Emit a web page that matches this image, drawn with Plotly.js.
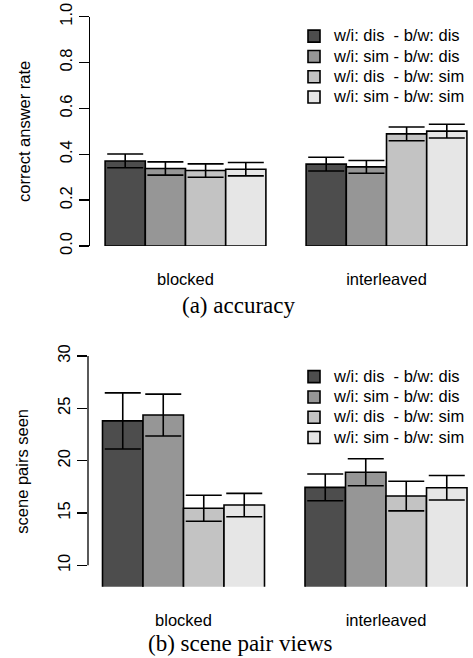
<!DOCTYPE html>
<html><head><meta charset="utf-8">
<script src="https://cdn.plot.ly/plotly-3.0.1.min.js"></script>
<style>html,body{margin:0;padding:0;background:#fff}#chart{width:473px;height:658px}</style>
</head><body><div id="chart"></div>
<script>
// ---- data ----
const groups = ["blocked", "interleaved"];
const seriesNames = ["w/i: dis\u00a0 - b/w: dis", "w/i: sim - b/w: dis", "w/i: dis\u00a0 - b/w: sim", "w/i: sim - b/w: sim"];
const seriesColors = ["#4D4D4D", "#969696", "#C3C3C3", "#E6E6E6"];

// (a) accuracy: correct answer rate
const accDisDis = [0.371, 0.357];
const accSimDis = [0.338, 0.345];
const accDisSim = [0.329, 0.489];
const accSimSim = [0.335, 0.501];
const accErrDisDis = [0.030, 0.030];
const accErrSimDis = [0.029, 0.028];
const accErrDisSim = [0.029, 0.030];
const accErrSimSim = [0.029, 0.030];

// (b) scene pair views
const viewsDisDis = [23.8, 17.45];
const viewsSimDis = [24.36, 18.89];
const viewsDisSim = [15.45, 16.62];
const viewsSimSim = [15.76, 17.42];
const viewsErrDisDis = [2.68, 1.28];
const viewsErrSimDis = [2.0, 1.29];
const viewsErrDisSim = [1.24, 1.42];
const viewsErrSimSim = [1.12, 1.17];

const accVals = [accDisDis, accSimDis, accDisSim, accSimSim];
const accErrs = [accErrDisDis, accErrSimDis, accErrDisSim, accErrSimSim];
const viewVals = [viewsDisDis, viewsSimDis, viewsDisSim, viewsSimSim];
const viewErrs = [viewsErrDisDis, viewsErrSimDis, viewsErrDisSim, viewsErrSimSim];

// ---- build ----
const W = 473, H = 658;
const py = p => 1 - p / H;
const sans = "Liberation Sans, Arial, Helvetica, sans-serif";
const serif = "Liberation Serif, Times New Roman, serif";
const FS = 16.5;

const traces = [];
function addSet(vals, errs, xa, ya, lg) {
  for (let i = 0; i < 4; i++) {
    traces.push({
      type: "bar", x: groups, y: vals[i],
      name: '<span style="font-size:' + FS + 'px">' + seriesNames[i] + '</span>',
      xaxis: xa, yaxis: ya, legend: lg,
      marker: {color: seriesColors[i], line: {color: "#000", width: 1.6}},
      error_y: {type: "data", array: errs[i], visible: true, color: "#000", thickness: 1.6, width: 18}
    });
  }
}
addSet(accVals, accErrs, "x", "y", "legend");
addSet(viewVals, viewErrs, "x2", "y2", "legend2");

const legendCommon = {
  xanchor: "left", yanchor: "top", bgcolor: "rgba(0,0,0,0)", borderwidth: 0,
  font: {family: sans, size: 13.3, color: "#000"}, tracegroupgap: 0, itemclick: false
};

const layout = {
  width: W, height: H,
  margin: {l: 0, r: 0, t: 0, b: 0},
  paper_bgcolor: "#fff", plot_bgcolor: "#fff",
  barmode: "group", bargap: 0.2, bargroupgap: 0,
  font: {family: sans, size: FS, color: "#000"},
  xaxis: {domain: [90 / W, 1], range: [-0.4751, 1.4303], anchor: "y", showline: false, showgrid: false, zeroline: false,
          ticks: "outside", ticklen: 18, tickcolor: "rgba(0,0,0,0)", tickfont: {family: sans, size: FS}},
  yaxis: {domain: [py(246), py(16.7)], range: [0, 1], anchor: "x", showline: true, linecolor: "#000", linewidth: 1.3,
          showgrid: false, zeroline: false, ticks: "outside", ticklen: 10, tickwidth: 1.3, tickcolor: "#000",
          tickvals: [0, 0.2, 0.4, 0.6, 0.8, 1.0], tickformat: ".1f", tickangle: -90,
          tickfont: {family: sans, size: FS},
          title: {text: "correct answer rate", font: {family: sans, size: FS}, standoff: 22}},
  xaxis2: {domain: [88 / W, 1], range: [-0.4716, 1.4296], anchor: "y2", showline: false, showgrid: false, zeroline: false,
          ticks: "outside", ticklen: 18, tickcolor: "rgba(0,0,0,0)", tickfont: {family: sans, size: FS}},
  yaxis2: {domain: [py(586.7), py(356)], range: [7.96, 30], anchor: "x2", showline: false,
          showgrid: false, zeroline: false, ticks: "outside", ticklen: 10, tickwidth: 1.3, tickcolor: "#000",
          tickvals: [10, 15, 20, 25, 30], tickangle: -90,
          tickfont: {family: sans, size: FS},
          title: {text: "scene pairs seen", font: {family: sans, size: FS}, standoff: 22}},
  legend: Object.assign({x: 294 / W, y: py(21)}, legendCommon),
  legend2: Object.assign({x: 294 / W, y: py(361.5)}, legendCommon),
  shapes: [
    {type: "line", xref: "x2 domain", x0: 0, x1: 0, yref: "y2", y0: 10, y1: 30, line: {color: "#000", width: 1.3}}
  ],
  annotations: [
    {text: "(a) accuracy", xref: "paper", yref: "paper", x: 239 / W, y: py(305), xanchor: "center", yanchor: "middle",
     showarrow: false, font: {family: serif, size: 23, color: "#000"}},
    {text: "(b) scene pair views", xref: "paper", yref: "paper", x: 240 / W, y: py(643), xanchor: "center", yanchor: "middle",
     showarrow: false, font: {family: serif, size: 23, color: "#000"}}
  ]
};

Plotly.newPlot("chart", traces, layout, {staticPlot: true, displayModeBar: false});
</script>
</body></html>
